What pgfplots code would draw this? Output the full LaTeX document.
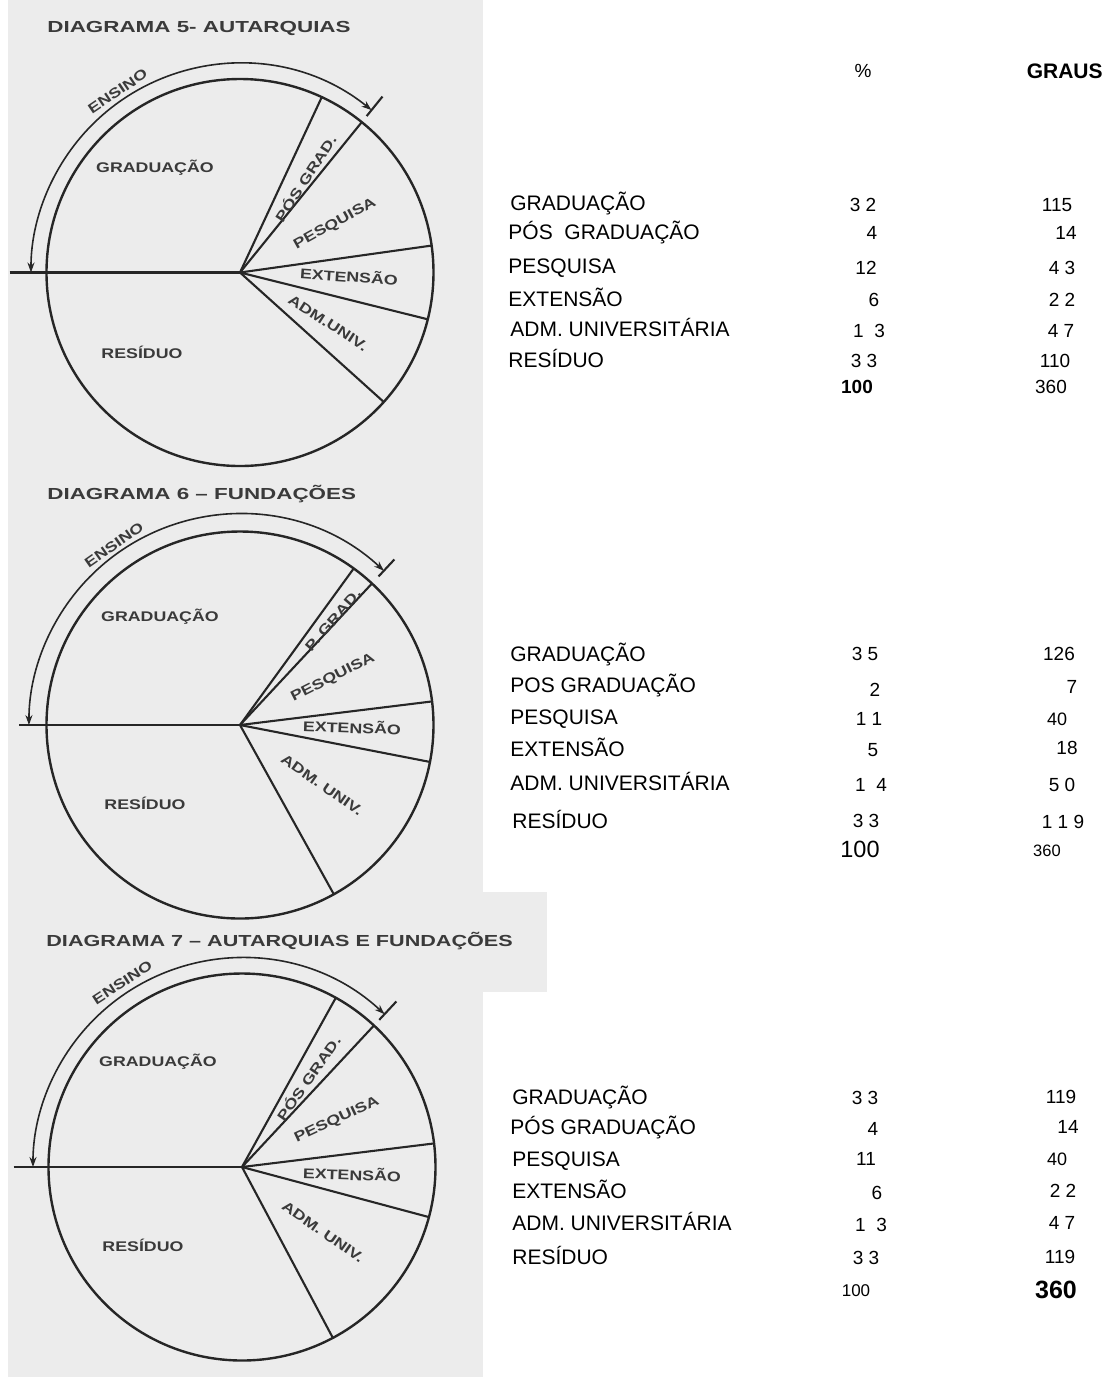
\documentclass[border=0pt]{standalone}
\usepackage{fontspec}
\setmainfont{Liberation Sans}
\newfontfamily\scanfont{Liberation Sans}[FakeStretch=1.27]
\newfontfamily\titlefontA{Liberation Sans}[FakeStretch=1.4]
\newfontfamily\titlefontC{Liberation Sans}[FakeStretch=1.35]
\usepackage{pgfplots}
\pgfplotsset{compat=1.18}
\usepgfplotslibrary{polar}
\usetikzlibrary{arrows.meta}

\definecolor{scan}{RGB}{236,236,236}
\definecolor{ink}{RGB}{38,38,38}
\definecolor{inktext}{RGB}{58,58,58}

% scanned pie labels / titles / table fonts
\newcommand\lbl{\scanfont\bfseries\fontsize{7}{8}\selectfont\color{inktext}}
\newcommand\ttl{\bfseries\fontsize{8}{9}\selectfont\color{inktext}}
\newcommand\row{\fontsize{10.5}{12}\selectfont}
\newcommand\num{\fontsize{9.5}{11}\selectfont}

\pgfplotsset{
  pie/.style={
    scale only axis, width=193.5pt, height=193.5pt,
    ymin=0, ymax=1, xtick=\empty, ytick=\empty,
    clip=false, anchor=origin,
    axis line style={ink, line width=1.2pt},
    y axis line style={draw=none},
  },
}
\tikzset{
  seg/.style={ink, line width=1.05pt},
  ens/.style={ink, line width=0.8pt,
    {Stealth[length=5pt,width=3.5pt]}-{Stealth[length=5pt,width=3.5pt]}},
  lab/.style={anchor=base west},
  val/.style={anchor=base},
}

\begin{document}
% one unit = one pixel of the reference (0.5pt); axis positions given in pt
\begin{tikzpicture}[x=0.5pt, y=0.5pt, every node/.style={inner sep=0pt}]
% page and scanned area
\fill[white] (0,0) rectangle (1113,-1377);
\fill[scan] (8,0) rectangle (483,-1377);
\fill[scan] (483,-892) rectangle (547,-992);

% ---------------- DIAGRAMA 5 ----------------
\node[anchor=west] at (47,-28) {\titlefontA\ttl DIAGRAMA 5- AUTARQUIAS};
\begin{polaraxis}[pie, at={(120pt,-136.25pt)}]
  \addplot[seg] coordinates {(180,1.19) (180,0)};
  \addplot[seg] coordinates {(0,0) (65,1)};
  \addplot[seg] coordinates {(0,0) (51,1)};
  \addplot[seg] coordinates {(0,0) (8,1)};
  \addplot[seg] coordinates {(0,0) (-14,1)};
  \addplot[seg] coordinates {(0,0) (-42,1)};
  \addplot[seg] coordinates {(51,1.04) (51,1.17)};
  \draw[ens] (axis cs:51,1.08) arc[start angle=51, end angle=180, radius=104.5pt];
  \node[rotate=34] at (axis cs:124,1.13) {\lbl ENSINO};
\end{polaraxis}
\node at (155,-168) {\lbl GRADUAÇÃO};
\node[rotate=57] at (305,-178) {\lbl PÓS GRAD.};
\node[rotate=29] at (335,-224) {\lbl PESQUISA};
\node[rotate=-4] at (349,-276) {\lbl EXTENSÃO};
\node[rotate=-33] at (328,-323) {\lbl ADM.UNIV.};
\node at (142,-352) {\lbl RESÍDUO};

% ---------------- DIAGRAMA 6 ----------------
\node[anchor=west] at (47,-494) {\titlefontA\ttl DIAGRAMA 6 – FUNDAÇÕES};
\begin{polaraxis}[pie, at={(120pt,-362.5pt)}]
  \addplot[seg] coordinates {(180,1.14) (180,0)};
  \addplot[seg] coordinates {(0,0) (54,1)};
  \addplot[seg] coordinates {(0,0) (47,1)};
  \addplot[seg] coordinates {(0,0) (7,1)};
  \addplot[seg] coordinates {(0,0) (-11,1)};
  \addplot[seg] coordinates {(0,0) (-61,1)};
  \addplot[seg] coordinates {(47,1.05) (47,1.17)};
  \draw[ens] (axis cs:47,1.09) arc[start angle=47, end angle=180, radius=105.5pt];
  \node[rotate=35] at (axis cs:125,1.135) {\lbl ENSINO};
\end{polaraxis}
\node at (160,-617) {\lbl GRADUAÇÃO};
\node[rotate=49] at (333,-620) {\lbl P. GRAD.};
\node[rotate=27] at (333,-678) {\lbl PESQUISA};
\node[rotate=-2] at (352,-727) {\lbl EXTENSÃO};
\node[rotate=-35] at (322,-785) {\lbl ADM. UNIV.};
\node at (145,-803) {\lbl RESÍDUO};

% ---------------- DIAGRAMA 7 ----------------
\node[anchor=west] at (46,-941) {\titlefontC\ttl DIAGRAMA 7 – AUTARQUIAS E FUNDAÇÕES};
\begin{polaraxis}[pie, at={(121pt,-583.5pt)}]
  \addplot[seg] coordinates {(180,1.18) (180,0)};
  \addplot[seg] coordinates {(0,0) (61,1)};
  \addplot[seg] coordinates {(0,0) (47,1)};
  \addplot[seg] coordinates {(0,0) (7,1)};
  \addplot[seg] coordinates {(0,0) (-15,1)};
  \addplot[seg] coordinates {(0,0) (-62,1)};
  \addplot[seg] coordinates {(47,1.04) (47,1.17)};
  \draw[ens] (axis cs:47,1.08) arc[start angle=47, end angle=180, radius=104.5pt];
  \node[rotate=33] at (axis cs:123,1.135) {\lbl ENSINO};
\end{polaraxis}
\node at (158,-1062) {\lbl GRADUAÇÃO};
\node[rotate=55] at (308,-1078) {\lbl PÓS GRAD.};
\node[rotate=25] at (337,-1120) {\lbl PESQUISA};
\node[rotate=-2] at (352,-1174) {\lbl EXTENSÃO};
\node[rotate=-35] at (323,-1232) {\lbl ADM. UNIV.};
\node at (143,-1245) {\lbl RESÍDUO};

% ---------------- tables ----------------
\node[val] at (863,-77.8) {\num \%};
\node[anchor=base east] at (1103,-78.5) {\bfseries\fontsize{10.5}{12}\selectfont GRAUS};

% table 1
\node[lab] at (510,-210.5) {\row GRADUAÇÃO};
\node[lab] at (508,-239.5) {\row PÓS~~GRADUAÇÃO};
\node[lab] at (508,-273.5) {\row PESQUISA};
\node[lab] at (508,-306.5) {\row EXTENSÃO};
\node[lab] at (510,-336.5) {\row ADM. UNIVERSITÁRIA};
\node[lab] at (508,-367.5) {\row RESÍDUO};
\node[val] at (863,-211.8) {\num 3 2};
\node[val] at (872,-239.8) {\num 4};
\node[val] at (866,-274.8) {\num 12};
\node[val] at (874,-306.8) {\num 6};
\node[val] at (869,-337.8) {\num 1~~3};
\node[val] at (864,-367.8) {\num 3 3};
\node[val] at (857,-393.8) {\num\bfseries 100};
\node[val] at (1057,-211.8) {\num 115};
\node[val] at (1066,-239.8) {\num 14};
\node[val] at (1062,-274.8) {\num 4 3};
\node[val] at (1062,-306.8) {\num 2 2};
\node[val] at (1061,-337.8) {\num 4 7};
\node[val] at (1055,-367.8) {\num 110};
\node[val] at (1051,-393.8) {\num 360};

% table 2
\node[lab] at (510,-661.5) {\row GRADUAÇÃO};
\node[lab] at (510,-692.5) {\row POS GRADUAÇÃO};
\node[lab] at (510,-724.5) {\row PESQUISA};
\node[lab] at (510,-756.5) {\row EXTENSÃO};
\node[lab] at (510,-790.5) {\row ADM. UNIVERSITÁRIA};
\node[lab] at (512,-828.5) {\row RESÍDUO};
\node[val] at (865,-660.8) {\num 3 5};
\node[val] at (875,-696.8) {\num 2};
\node[val] at (869,-725.8) {\num 1 1};
\node[val] at (873,-756.8) {\num 5};
\node[val] at (871,-791.8) {\num 1~~4};
\node[val] at (866,-827.8) {\num 3 3};
\node[val] at (860,-857.4) {\fontsize{11.75}{13}\selectfont 100};
\node[val] at (1059,-660.8) {\num 126};
\node[val] at (1072,-693.8) {\num 7};
\node[val] at (1057,-725.4) {\fontsize{9}{10}\selectfont 40};
\node[val] at (1067,-754.8) {\num 18};
\node[val] at (1062,-791.8) {\num 5 0};
\node[val] at (1063,-828.8) {\num 1 1 9};
\node[val] at (1047,-856.9) {\fontsize{8.25}{10}\selectfont 360};

% table 3
\node[lab] at (512,-1104.5) {\row GRADUAÇÃO};
\node[lab] at (510,-1134.5) {\row PÓS GRADUAÇÃO};
\node[lab] at (512,-1166.5) {\row PESQUISA};
\node[lab] at (512,-1198.5) {\row EXTENSÃO};
\node[lab] at (512,-1230.5) {\row ADM. UNIVERSITÁRIA};
\node[lab] at (512,-1264.5) {\row RESÍDUO};
\node[val] at (865,-1104.8) {\num 3 3};
\node[val] at (873,-1135.8) {\num 4};
\node[val] at (866,-1165.8) {\num 11};
\node[val] at (877,-1199.8) {\num 6};
\node[val] at (871,-1231.8) {\num 1~~3};
\node[val] at (866,-1264.8) {\num 3 3};
\node[val] at (856,-1296.1) {\fontsize{8.5}{10}\selectfont 100};
\node[val] at (1061,-1103.8) {\num 119};
\node[val] at (1068,-1133.8) {\num 14};
\node[val] at (1057,-1165.4) {\fontsize{9}{10}\selectfont 40};
\node[val] at (1063,-1197.8) {\num 2 2};
\node[val] at (1062,-1229.8) {\num 4 7};
\node[val] at (1060,-1263.8) {\num 119};
\node[val] at (1056,-1298) {\bfseries\fontsize{12.5}{14}\selectfont 360};
\end{tikzpicture}
\end{document}
